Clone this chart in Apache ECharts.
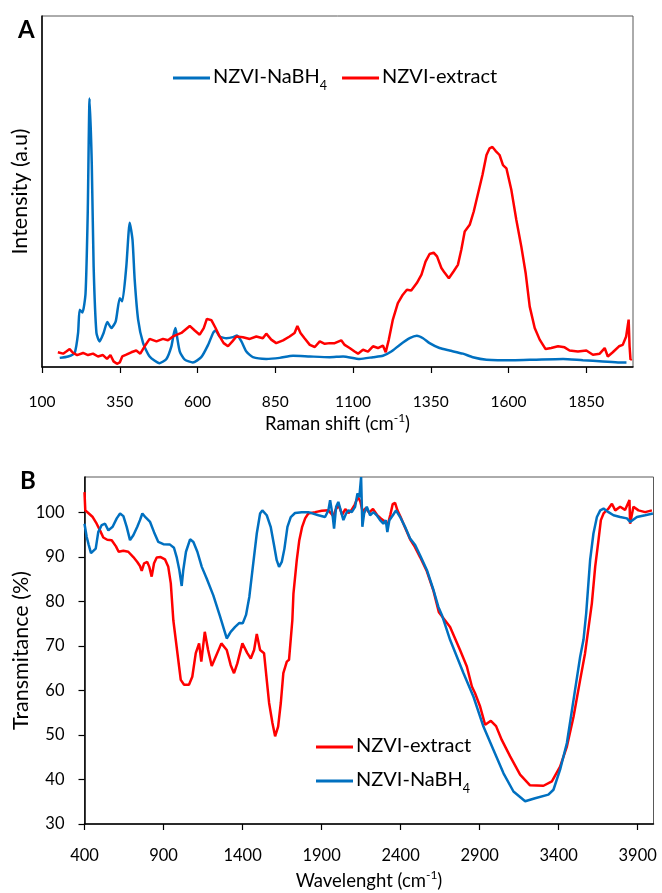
<!DOCTYPE html>
<html>
<head>
<meta charset="utf-8">
<script src="https://cdn.jsdelivr.net/npm/echarts@6/dist/echarts.min.js"></script>
<style>
  html, body { margin: 0; padding: 0; background: #fff; }
  #chart { width: 662px; height: 893px; }
</style>
</head>
<body>
<div id="chart"></div>
<script>
// Panel A – Raman spectra: [Raman shift (cm-1), intensity (a.u.)]
const ramanNaBH4 = [
  [157,2.6],[184,3.0],[205,4.0],[216,9.7],[221,16.3],[230,15.5],[240,21.0],[247,43.8],[253,76.5],
  [260,58.0],[266,28.6],[275,9.7],[285,7.3],[298,9.7],[310,12.8],[323,11.1],[337,13.0],[350,19.6],
  [358,18.7],[371,28.6],[382,41.1],[391,36.2],[398,24.8],[409,13.5],[425,6.8],[446,3.0],[478,1.1],
  [500,2.3],[516,5.9],[523,9.2],[529,11.1],[534,8.7],[543,4.4],[559,2.1],[585,1.3],[612,2.8],
  [634,6.3],[650,9.7],[658,10.4],[671,8.7],[693,8.2],[714,8.5],[727,9.0],[741,7.3],[757,4.4],
  [778,2.8],[821,2.3],[864,2.6],[907,3.2],[961,3.0],[1025,2.8],[1068,3.0],[1121,2.3],[1164,2.8],
  [1196,3.2],[1223,4.4],[1250,6.3],[1282,8.2],[1305,8.9],[1325,8.2],[1346,6.8],[1378,5.4],
  [1410,4.7],[1453,3.8],[1485,2.8],[1529,2.1],[1614,1.9],[1689,2.1],[1775,2.3],[1839,1.9],
  [1903,1.6],[1957,1.3],[1979,1.3]
];
const ramanExtract = [
  [151,4.2],[168,3.8],[178,4.4],[189,5.1],[200,4.0],[213,3.4],[232,4.0],[248,3.4],[264,3.8],
  [280,3.0],[296,3.4],[309,2.3],[320,3.4],[330,1.6],[341,0.9],[350,1.3],[358,3.0],[371,3.5],
  [387,4.2],[403,4.7],[416,3.8],[430,5.9],[446,8.0],[468,7.3],[489,8.0],[505,7.6],[521,8.7],
  [548,9.7],[575,11.7],[591,10.4],[607,9.2],[620,11.1],[630,13.7],[645,13.3],[658,11.1],
  [671,8.7],[684,6.8],[698,5.9],[712,7.3],[725,8.7],[746,8.5],[768,8.0],[789,8.7],[810,8.2],
  [821,9.5],[837,7.8],[853,6.8],[875,7.6],[896,8.7],[912,9.7],[921,11.7],[931,9.7],[944,8.2],
  [961,6.3],[977,5.7],[993,7.3],[1009,6.6],[1025,6.8],[1041,6.8],[1062,7.6],[1073,6.3],
  [1089,5.4],[1105,4.4],[1116,3.8],[1132,4.9],[1148,4.4],[1164,5.9],[1180,5.4],[1196,6.1],
  [1205,4.2],[1215,7.8],[1228,13.5],[1244,18.2],[1260,20.6],[1273,22.0],[1287,21.8],[1305,23.9],
  [1320,26.3],[1333,30.0],[1346,32.2],[1359,32.6],[1370,31.5],[1384,28.2],[1394,26.9],
  [1408,25.3],[1423,27.2],[1437,29.1],[1448,33.4],[1459,38.6],[1475,40.5],[1488,44.3],
  [1502,49.5],[1516,54.7],[1529,60.4],[1539,62.3],[1548,62.7],[1558,61.6],[1571,60.4],
  [1582,57.5],[1593,56.6],[1609,50.4],[1625,41.9],[1641,34.3],[1655,26.7],[1668,17.2],
  [1684,11.1],[1700,7.8],[1719,5.1],[1737,5.4],[1759,5.9],[1780,5.6],[1796,4.7],[1823,4.4],
  [1850,4.7],[1871,3.5],[1893,3.8],[1909,5.4],[1919,3.0],[1935,4.2],[1955,5.9],[1967,6.3],
  [1978,8.7],[1986,13.5],[1989,5.9],[1992,2.1],[1996,2.3]
];
const ramanTicks = [100, 350, 600, 850, 1100, 1350, 1600, 1850];

// Panel B – FTIR spectra: [wavenumber (cm-1), transmittance (%)]
const ftirExtract = [
  [400,104.6],[405,100.5],[424,99.9],[452,99.0],[477,97.5],[498,96.0],[519,94.4],[544,93.9],
  [572,93.8],[599,92.4],[616,91.2],[646,91.4],[677,91.2],[709,90.0],[734,88.9],[751,88.0],
  [762,86.9],[777,88.6],[797,88.9],[810,87.8],[825,85.6],[840,88.6],[857,89.9],[882,90.0],
  [909,89.5],[930,87.8],[946,84.1],[962,75.8],[1009,62.4],[1030,61.3],[1061,61.3],[1082,63.1],
  [1104,68.4],[1125,70.6],[1139,66.5],[1161,73.2],[1182,69.1],[1205,65.5],[1230,67.6],
  [1266,70.6],[1300,69.1],[1325,65.7],[1346,63.9],[1367,66.1],[1399,70.6],[1430,68.4],
  [1452,67.2],[1473,69.1],[1490,72.7],[1511,69.1],[1536,68.4],[1553,62.4],[1568,57.2],
  [1589,52.7],[1606,49.7],[1625,51.9],[1642,57.2],[1658,63.9],[1680,66.5],[1694,66.9],
  [1715,75.8],[1722,81.8],[1743,89.3],[1759,93.8],[1777,96.8],[1796,98.7],[1816,99.8],
  [1859,100.1],[1901,100.4],[1943,100.5],[1954,100.5],[1975,99.2],[1990,100.8],[2010,101.5],
  [2030,99.5],[2050,100.8],[2070,99.9],[2090,100.6],[2110,101.8],[2130,103.5],[2145,102.5],
  [2160,100.2],[2180,101.0],[2200,100.0],[2225,100.8],[2250,99.5],[2275,98.7],[2300,98.0],
  [2318,97.2],[2335,99.5],[2350,101.9],[2365,102.2],[2380,100.5],[2400,99.0],[2430,96.5],
  [2460,94.0],[2490,92.3],[2523,90.0],[2566,86.8],[2608,82.4],[2642,77.6],[2713,74.3],
  [2776,69.1],[2819,65.4],[2851,60.9],[2871,59.4],[2903,56.4],[2935,52.3],[2971,53.2],
  [3004,52.0],[3040,48.9],[3093,45.2],[3156,41.1],[3219,38.7],[3304,38.6],[3357,39.6],
  [3409,42.9],[3452,47.4],[3494,54.1],[3536,62.4],[3567,68.4],[3610,79.6],[3631,87.8],
  [3652,93.8],[3667,98.3],[3684,99.8],[3715,100.9],[3737,102.0],[3758,100.5],[3789,101.3],
  [3820,100.6],[3848,102.8],[3852,97.5],[3873,101.3],[3905,100.5],[3947,100.1],[3990,100.5]
];
const ftirNaBH4 = [
  [400,97.5],[405,97.9],[414,94.5],[427,92.7],[441,90.9],[456,91.4],[471,91.9],[487,95.6],
  [509,97.2],[530,97.5],[551,96.0],[578,96.8],[604,98.7],[625,99.8],[646,99.2],[667,96.8],
  [688,93.8],[709,94.9],[734,96.8],[751,98.3],[766,99.8],[787,98.9],[815,97.9],[840,95.6],
  [867,93.4],[899,92.9],[941,92.8],[966,92.1],[983,90.0],[1000,87.1],[1015,83.5],[1025,87.1],
  [1042,91.2],[1068,94.0],[1089,93.4],[1114,91.2],[1142,87.8],[1173,85.2],[1215,81.4],
  [1258,76.6],[1300,71.7],[1325,73.2],[1353,74.3],[1380,75.2],[1401,75.1],[1422,77.0],
  [1443,81.1],[1465,87.8],[1490,95.3],[1511,99.8],[1525,100.5],[1553,99.4],[1578,96.8],
  [1599,92.7],[1616,89.3],[1631,87.8],[1648,88.9],[1665,91.9],[1684,96.8],[1705,99.0],
  [1732,99.9],[1775,100.1],[1816,100.1],[1880,99.4],[1922,99.0],[1943,100.5],[1954,102.8],
  [1971,99.0],[1979,96.4],[1992,101.3],[2006,102.4],[2021,100.5],[2038,98.3],[2055,99.8],
  [2070,100.5],[2091,100.1],[2112,101.3],[2127,104.3],[2139,103.5],[2150,108.0],[2158,96.8],
  [2169,99.8],[2186,101.3],[2207,99.4],[2228,100.1],[2249,99.4],[2270,98.3],[2291,97.5],
  [2306,98.3],[2316,95.6],[2329,98.3],[2351,99.4],[2371,100.5],[2397,99.0],[2428,96.8],
  [2460,94.2],[2492,92.7],[2523,90.4],[2566,87.1],[2608,82.6],[2639,78.8],[2661,77.0],
  [2713,71.4],[2798,63.9],[2861,58.6],[2924,51.9],[2987,46.7],[3051,41.4],[3114,37.3],
  [3188,35.1],[3251,35.8],[3335,36.6],[3367,37.7],[3409,42.2],[3452,48.2],[3494,57.9],
  [3536,67.6],[3557,71.4],[3574,77.3],[3599,89.3],[3620,95.3],[3642,99.0],[3663,100.5],
  [3684,100.9],[3715,100.1],[3747,99.4],[3789,99.0],[3832,98.7],[3852,97.9],[3895,99.0],
  [3947,99.4],[3996,99.8]
];
const ftirXTicks = [400, 900, 1400, 1900, 2400, 2900, 3400, 3900];
const ftirYTicks = [30, 40, 50, 60, 70, 80, 90, 100];

const FONT = "Lato, 'Open Sans', sans-serif";
const BLUE = '#0070C0';
const RED = '#FF0000';

const axisLine = { show: true, onZero: false, lineStyle: { color: '#000', width: 1.5 } };
const tickStyle = { color: '#000', width: 1.2 };
const plain = v => String(v);
const labelStyle = { color: '#000', fontFamily: FONT, fontSize: 15.5, formatter: plain };
const nameStyle = {
  color: '#000', fontFamily: FONT, fontSize: 18.5,
  rich: {
    t: { color: '#000', fontFamily: FONT, fontSize: 18.5, lineHeight: 22, verticalAlign: 'bottom' },
    sup: { color: '#000', fontFamily: FONT, fontSize: 12, lineHeight: 22, verticalAlign: 'top' }
  }
};
const yNameStyle = { color: '#000', fontFamily: FONT, fontSize: 21.5 };
const legendText = {
  color: '#000', fontFamily: FONT, fontSize: 20, padding: [0, 0, 0, -2],
  rich: {
    t: { fontFamily: FONT, fontSize: 20, color: '#000', lineHeight: 22, verticalAlign: 'top' },
    sub: { fontFamily: FONT, fontSize: 12.5, color: '#000', lineHeight: 22, verticalAlign: 'bottom', padding: [0, 0, -3, 0] }
  }
};
const legendFormat = n => n.trim() === 'NZVI-NaBH4' ? '{t|NZVI-NaBH}{sub|4}' : '{t|' + n.trim() + '}';

const chart = echarts.init(document.getElementById('chart'), null, { renderer: 'canvas' });

chart.setOption({
  animation: false,
  backgroundColor: '#fff',
  title: [
    { text: 'A', left: 13, top: 13, textStyle: { fontFamily: FONT, fontSize: 24, fontWeight: 'bold', color: '#000' } },
    { text: 'B', left: 15, top: 464, textStyle: { fontFamily: FONT, fontSize: 24, fontWeight: 'bold', color: '#000' } }
  ],
  legend: [
    {
      data: ['NZVI-NaBH4', 'NZVI-extract'],
      left: 168, top: 62, orient: 'horizontal',
      icon: 'rect', itemWidth: 37, itemHeight: 3, itemGap: 15,
      formatter: legendFormat, textStyle: legendText
    },
    {
      data: ['NZVI-extract ', 'NZVI-NaBH4 '],
      left: 311, top: 731, orient: 'vertical',
      icon: 'rect', itemWidth: 37, itemHeight: 3, itemGap: 14,
      formatter: legendFormat, textStyle: legendText
    }
  ],
  grid: [
    { left: 42, top: 16, width: 591, height: 351, show: true, borderColor: '#595959', borderWidth: 1, outerBoundsMode: 'none', containLabel: false },
    { left: 84.5, top: 477, width: 569, height: 347, show: true, borderColor: '#595959', borderWidth: 1, outerBoundsMode: 'none', containLabel: false }
  ],
  xAxis: [
    {
      gridIndex: 0, type: 'value', min: 100, max: 2000,
      axisLine,
      axisTick: { show: true, inside: false, length: 6, lineStyle: tickStyle, customValues: ramanTicks },
      axisLabel: { ...labelStyle, margin: 27, customValues: ramanTicks },
      splitLine: { show: false },
      name: '{t|Raman shift (cm}{sup|-1}{t|)}', nameLocation: 'middle', nameGap: 45, nameMoveOverlap: false,
      nameTextStyle: nameStyle
    },
    {
      gridIndex: 1, type: 'value', min: 400, max: 4000,
      axisLine,
      axisTick: { show: true, inside: false, length: 6, lineStyle: tickStyle, customValues: ftirXTicks },
      axisLabel: { ...labelStyle, fontSize: 16.5, margin: 23, customValues: ftirXTicks },
      splitLine: { show: false },
      name: '{t|Wavelenght (cm}{sup|-1}{t|)}', nameLocation: 'middle', nameGap: 45, nameMoveOverlap: false,
      nameTextStyle: nameStyle
    }
  ],
  yAxis: [
    {
      gridIndex: 0, type: 'value', min: 0, max: 100,
      axisLine, axisTick: { show: false }, axisLabel: { show: false },
      splitLine: { show: false },
      name: 'Intensity (a.u)', nameLocation: 'middle', nameGap: 11, nameMoveOverlap: false,
      nameTextStyle: yNameStyle
    },
    {
      gridIndex: 1, type: 'value', min: 30, max: 108,
      axisLine,
      axisTick: { show: true, inside: false, length: 6, lineStyle: tickStyle, customValues: ftirYTicks },
      axisLabel: { ...labelStyle, fontSize: 16.5, margin: 20, customValues: ftirYTicks },
      splitLine: { show: false },
      name: 'Transmitance (%)', nameLocation: 'middle', nameGap: 52, nameMoveOverlap: false,
      nameTextStyle: yNameStyle
    }
  ],
  series: [
    {
      name: 'NZVI-NaBH4', type: 'line', xAxisIndex: 0, yAxisIndex: 0,
      data: ramanNaBH4, showSymbol: false, smooth: 0.2,
      lineStyle: { color: BLUE, width: 2.5 }, itemStyle: { color: BLUE }
    },
    {
      name: 'NZVI-extract', type: 'line', xAxisIndex: 0, yAxisIndex: 0,
      data: ramanExtract, showSymbol: false,
      lineStyle: { color: RED, width: 2.5 }, itemStyle: { color: RED }
    },
    {
      name: 'NZVI-extract ', type: 'line', xAxisIndex: 1, yAxisIndex: 1,
      data: ftirExtract, showSymbol: false,
      lineStyle: { color: RED, width: 2.5 }, itemStyle: { color: RED }
    },
    {
      name: 'NZVI-NaBH4 ', type: 'line', xAxisIndex: 1, yAxisIndex: 1,
      data: ftirNaBH4, showSymbol: false,
      lineStyle: { color: BLUE, width: 2.5 }, itemStyle: { color: BLUE }
    }
  ]
});
</script>
</body>
</html>
